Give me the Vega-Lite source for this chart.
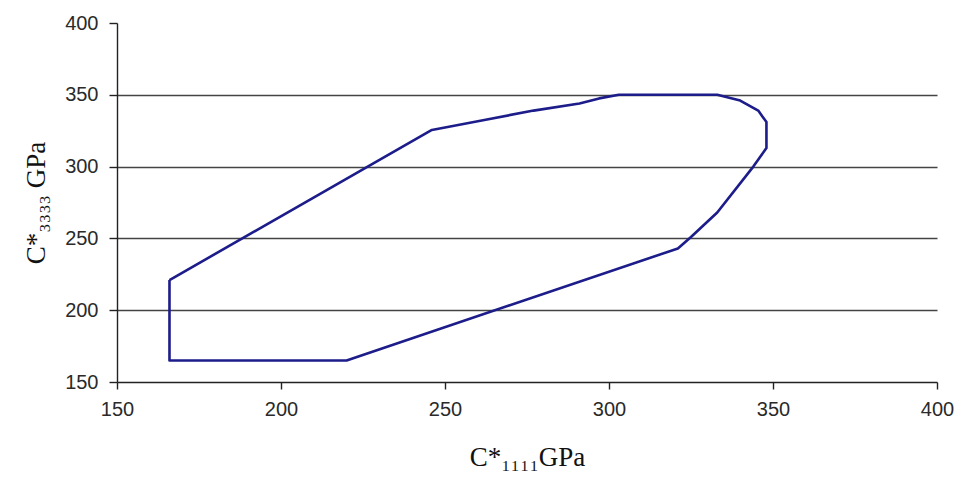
{
  "$schema": "https://vega.github.io/schema/vega-lite/v6.json",
  "autosize": "none",
  "width": 820,
  "height": 359,
  "padding": {"left": 117, "top": 23, "right": 27, "bottom": 95},
  "background": "white",
  "config": {
    "view": {"stroke": null},
    "axis": {"labelFont": "Liberation Sans", "labelFontSize": 20, "labelColor": "#2a2a2a", "labelFlush": false, "domainColor": "#222", "tickColor": "#222", "domainWidth": 1.4, "tickWidth": 1.4, "titleFont": "Liberation Serif", "titleFontWeight": "normal", "titleColor": "#111"}
  },
  "data": {"values": [
    {"i": 1, "c1111": 166, "c3333": 221},
    {"i": 2, "c1111": 166, "c3333": 165},
    {"i": 3, "c1111": 220, "c3333": 165},
    {"i": 4, "c1111": 321, "c3333": 243},
    {"i": 5, "c1111": 325, "c3333": 251},
    {"i": 6, "c1111": 333, "c3333": 268},
    {"i": 7, "c1111": 344, "c3333": 300},
    {"i": 8, "c1111": 348, "c3333": 313},
    {"i": 9, "c1111": 348, "c3333": 331},
    {"i": 10, "c1111": 345.5, "c3333": 339},
    {"i": 11, "c1111": 340, "c3333": 346},
    {"i": 12, "c1111": 333, "c3333": 350},
    {"i": 13, "c1111": 303, "c3333": 350},
    {"i": 14, "c1111": 297, "c3333": 347.5},
    {"i": 15, "c1111": 291, "c3333": 344},
    {"i": 16, "c1111": 277, "c3333": 339},
    {"i": 17, "c1111": 262, "c3333": 332.5},
    {"i": 18, "c1111": 246, "c3333": 325.5},
    {"i": 19, "c1111": 166, "c3333": 221}
  ]},
  "mark": {"type": "line", "color": "#1c1c8a", "strokeWidth": 2.6, "strokeJoin": "round"},
  "encoding": {
    "order": {"field": "i", "type": "quantitative"},
    "x": {
      "field": "c1111", "type": "quantitative",
      "scale": {"domain": [150, 400], "nice": false, "zero": false},
      "axis": {"values": [150, 200, 250, 300, 350, 400], "grid": false, "tickSize": 7, "labelPadding": 10, "title": "C*₁₁₁₁GPa", "titleFontSize": 27, "titlePadding": 25}
    },
    "y": {
      "field": "c3333", "type": "quantitative",
      "scale": {"domain": [150, 400], "nice": false, "zero": false},
      "axis": {
        "values": [150, 200, 250, 300, 350, 400],
        "grid": true,
        "gridColor": {"condition": {"test": "datum.value == 400 || datum.value == 150", "value": "transparent"}, "value": "#444"},
        "gridWidth": 1.6,
        "tickSize": 8, "labelPadding": 11,
        "title": "C*₃₃₃₃ GPa", "titleFontSize": 27, "titlePadding": 14
      }
    }
  }
}
